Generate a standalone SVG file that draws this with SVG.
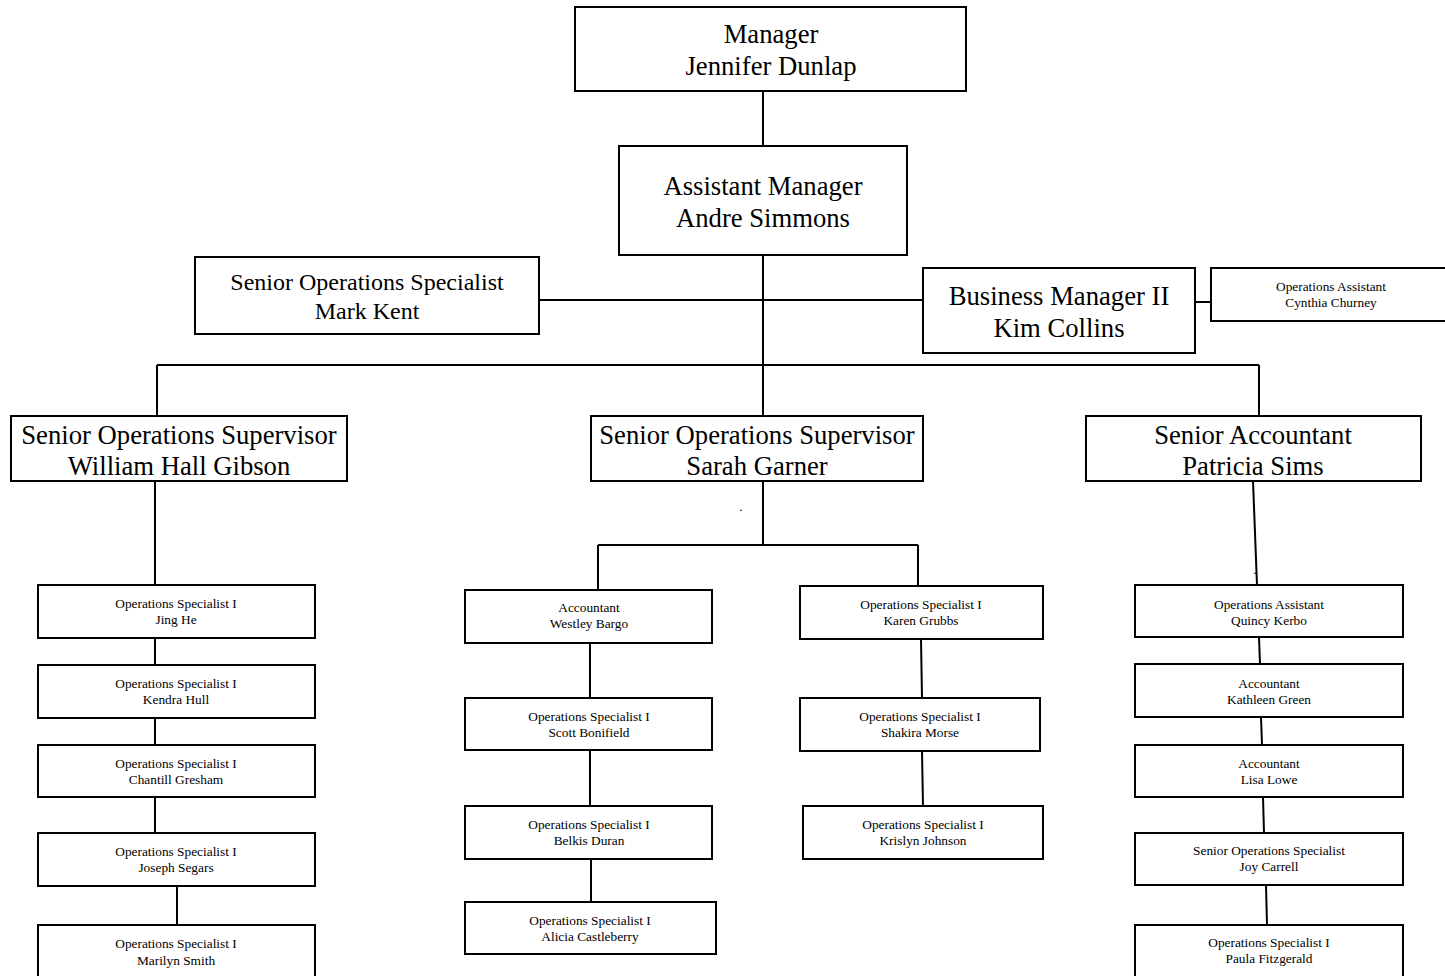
<svg xmlns="http://www.w3.org/2000/svg" width="1445" height="976" viewBox="0 0 1445 976">
<style>
rect{fill:#fff;stroke:#000;stroke-width:2}
.c line{stroke:#000;stroke-width:2}
text{font-family:"Liberation Serif","Times New Roman",serif;fill:#000;text-anchor:middle}
.l{font-size:26.67px}
.m{font-size:24px}
.s{font-size:13.33px}
</style>
<rect x="0" y="0" width="1445" height="976" style="stroke:none"/>
<g class="c" id="connectors">
<line x1="763" y1="91" x2="763" y2="146"/>
<line x1="763" y1="255" x2="763" y2="416"/>
<line x1="539" y1="300" x2="923" y2="300"/>
<line x1="1195" y1="302" x2="1211" y2="302"/>
<line x1="157" y1="365" x2="1259" y2="365"/>
<line x1="157" y1="365" x2="157" y2="416"/>
<line x1="1259" y1="365" x2="1259" y2="416"/>
<line x1="155" y1="481" x2="155" y2="585"/>
<line x1="155" y1="638" x2="155" y2="665"/>
<line x1="155" y1="718" x2="155" y2="745"/>
<line x1="155" y1="797" x2="155" y2="833"/>
<line x1="177" y1="886" x2="177" y2="925"/>
<line x1="763" y1="481" x2="763" y2="545"/>
<line x1="598" y1="545" x2="918" y2="545"/>
<line x1="598" y1="545" x2="598" y2="590"/>
<line x1="918" y1="545" x2="918" y2="586"/>
<line x1="590" y1="643" x2="590" y2="698"/>
<line x1="590" y1="750" x2="590" y2="806"/>
<line x1="591" y1="859" x2="591" y2="902"/>
<line x1="921" y1="639" x2="922" y2="698"/>
<line x1="922" y1="751" x2="923" y2="806"/>
<line x1="1253" y1="481" x2="1257" y2="585"/>
<line x1="1259" y1="637" x2="1260" y2="664"/>
<line x1="1261" y1="717" x2="1262" y2="745"/>
<line x1="1263" y1="797" x2="1264" y2="833"/>
<line x1="1266" y1="885" x2="1267" y2="925"/>
</g>
<g id="manager"><rect x="575" y="7" width="391" height="84"/><text class="l" x="771" y="43">Manager</text><text class="l" x="771" y="75">Jennifer Dunlap</text></g>
<g id="assistant-manager"><rect x="619" y="146" width="288" height="109"/><text class="l" x="763" y="195">Assistant Manager</text><text class="l" x="763" y="227">Andre Simmons</text></g>
<g id="mark-kent"><rect x="195" y="257" width="344" height="77"/><text class="m" x="367" y="290">Senior Operations Specialist</text><text class="m" x="367" y="319">Mark Kent</text></g>
<g id="kim-collins"><rect x="923" y="268" width="272" height="85"/><text class="l" x="1059" y="305">Business Manager II</text><text class="l" x="1059" y="337">Kim Collins</text></g>
<g id="cynthia-churney"><rect x="1211" y="268" width="240" height="53"/><text class="s" x="1331" y="291">Operations Assistant</text><text class="s" x="1331" y="307">Cynthia Churney</text></g>
<g id="william-hall-gibson"><rect x="11" y="416" width="336" height="65"/><text class="l" x="179" y="444">Senior Operations Supervisor</text><text class="l" x="179" y="475">William Hall Gibson</text></g>
<g id="sarah-garner"><rect x="591" y="416" width="332" height="65"/><text class="l" x="757" y="444">Senior Operations Supervisor</text><text class="l" x="757" y="475">Sarah Garner</text></g>
<g id="patricia-sims"><rect x="1086" y="416" width="335" height="65"/><text class="l" x="1253" y="444">Senior Accountant</text><text class="l" x="1253" y="475">Patricia Sims</text></g>
<text class="s" x="741" y="511">.</text>
<text class="s" x="1255" y="574">.</text>
<g id="jing-he"><rect x="38" y="585" width="277" height="53"/><text class="s" x="176" y="608">Operations Specialist I</text><text class="s" x="176" y="624">Jing He</text></g>
<g id="kendra-hull"><rect x="38" y="665" width="277" height="53"/><text class="s" x="176" y="688">Operations Specialist I</text><text class="s" x="176" y="704">Kendra Hull</text></g>
<g id="chantill-gresham"><rect x="38" y="745" width="277" height="52"/><text class="s" x="176" y="768">Operations Specialist I</text><text class="s" x="176" y="784">Chantill Gresham</text></g>
<g id="joseph-segars"><rect x="38" y="833" width="277" height="53"/><text class="s" x="176" y="856">Operations Specialist I</text><text class="s" x="176" y="872">Joseph Segars</text></g>
<g id="marilyn-smith"><rect x="38" y="925" width="277" height="60"/><text class="s" x="176" y="948">Operations Specialist I</text><text class="s" x="176" y="965">Marilyn Smith</text></g>
<g id="westley-bargo"><rect x="465" y="590" width="247" height="53"/><text class="s" x="589" y="612">Accountant</text><text class="s" x="589" y="628">Westley Bargo</text></g>
<g id="scott-bonifield"><rect x="465" y="698" width="247" height="52"/><text class="s" x="589" y="721">Operations Specialist I</text><text class="s" x="589" y="737">Scott Bonifield</text></g>
<g id="belkis-duran"><rect x="465" y="806" width="247" height="53"/><text class="s" x="589" y="829">Operations Specialist I</text><text class="s" x="589" y="845">Belkis Duran</text></g>
<g id="alicia-castleberry"><rect x="465" y="902" width="251" height="52"/><text class="s" x="590" y="925">Operations Specialist I</text><text class="s" x="590" y="941">Alicia Castleberry</text></g>
<g id="karen-grubbs"><rect x="800" y="586" width="243" height="53"/><text class="s" x="921" y="609">Operations Specialist I</text><text class="s" x="921" y="625">Karen Grubbs</text></g>
<g id="shakira-morse"><rect x="800" y="698" width="240" height="53"/><text class="s" x="920" y="721">Operations Specialist I</text><text class="s" x="920" y="737">Shakira Morse</text></g>
<g id="krislyn-johnson"><rect x="803" y="806" width="240" height="53"/><text class="s" x="923" y="829">Operations Specialist I</text><text class="s" x="923" y="845">Krislyn Johnson</text></g>
<g id="quincy-kerbo"><rect x="1135" y="585" width="268" height="52"/><text class="s" x="1269" y="609">Operations Assistant</text><text class="s" x="1269" y="625">Quincy Kerbo</text></g>
<g id="kathleen-green"><rect x="1135" y="664" width="268" height="53"/><text class="s" x="1269" y="688">Accountant</text><text class="s" x="1269" y="704">Kathleen Green</text></g>
<g id="lisa-lowe"><rect x="1135" y="745" width="268" height="52"/><text class="s" x="1269" y="768">Accountant</text><text class="s" x="1269" y="784">Lisa Lowe</text></g>
<g id="joy-carrell"><rect x="1135" y="833" width="268" height="52"/><text class="s" x="1269" y="855">Senior Operations Specialist</text><text class="s" x="1269" y="871">Joy Carrell</text></g>
<g id="paula-fitzgerald"><rect x="1135" y="925" width="268" height="60"/><text class="s" x="1269" y="947">Operations Specialist I</text><text class="s" x="1269" y="963">Paula Fitzgerald</text></g>
</svg>
